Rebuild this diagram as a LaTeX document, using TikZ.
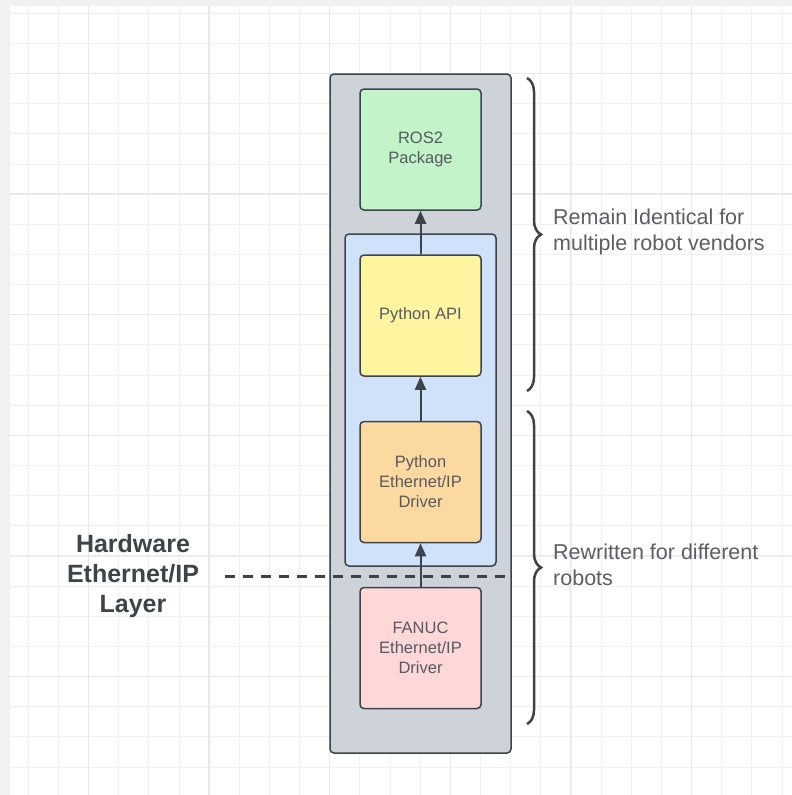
\documentclass[tikz,border=0pt]{standalone}
\usepackage{fontspec}
\setmainfont{Liberation Sans}
\usepackage{xcolor}
\usetikzlibrary{arrows.meta}
\usetikzlibrary{decorations.pathreplacing}
\usetikzlibrary{calc}

\definecolor{edgegray}{HTML}{3D434B}
\definecolor{boxtext}{HTML}{555A61}
\definecolor{sidetext}{HTML}{5A5E65}
\definecolor{hwtext}{HTML}{3F444B}
\definecolor{stackgray}{HTML}{CED3DA}
\definecolor{pyblue}{HTML}{CFE2FA}
\definecolor{rosgreen}{HTML}{C3F3C9}
\definecolor{apiyellow}{HTML}{FFF5A1}
\definecolor{drvorange}{HTML}{FDD9A2}
\definecolor{fanucpink}{HTML}{FED8D8}
\definecolor{minorline}{HTML}{F0F0F0}
\definecolor{majorline}{HTML}{E8E8E8}
\definecolor{pageedge}{HTML}{F1F1F1}

\tikzset{
  layerbox/.style={draw=edgegray, line width=1.5pt, rounded corners=4pt, inner sep=0pt},
  block/.style={layerbox, minimum width=121pt, minimum height=121pt, text=boxtext,
    font=\fontsize{16.5}{20}\selectfont, align=center},
  flow/.style={draw=edgegray, line width=2pt, -{Triangle[length=13pt,width=11pt]}},
  bracket/.style={draw=edgegray, line width=2.5pt, decorate, decoration={brace, amplitude=14pt}},
  note/.style={text=sidetext, font=\fontsize{21.5}{26}\selectfont, align=left, anchor=west, inner sep=0pt},
  cutline/.style={draw=edgegray, line width=3pt, dash pattern=on 10pt off 8pt},
}

\begin{document}
\begin{tikzpicture}[x=1pt,y=-1pt]
	\useasboundingbox[fill=pageedge] (0,0) rectangle (792,795);
	\fill[white] (10,6) rectangle (792,795);
	% grid
	\foreach \k in {0,...,25} {
		\draw[minorline, line width=1pt] ({28.3+30.15*\k},6) -- ({28.3+30.15*\k},795);
		\draw[minorline, line width=1pt] (10,{13.3+30.15*\k}) -- (792,{13.3+30.15*\k});
	}
	\foreach \k in {0,...,5} {
		\draw[majorline, line width=1.2pt] ({88.3+120.6*\k},6) -- ({88.3+120.6*\k},795);
		\draw[majorline, line width=1.2pt] (10,{73.3+120.6*\k}) -- (792,{73.3+120.6*\k});
	}

	% containers
	\node[layerbox, fill=stackgray, minimum width=181pt, minimum height=679pt] (stack) at (420.5,413.5) {};
	\node[layerbox, fill=pyblue, minimum width=151pt, minimum height=332pt] (pyside) at (420.5,400) {};

	% blocks
	\node[block, fill=rosgreen] (ros) at (420.5,149.5) {ROS2\\Package};
	\node[block, fill=apiyellow] (api) at (420.5,315.5) {Python API};
	\node[block, fill=drvorange] (pydrv) at (420.5,482) {Python\\Ethernet/IP\\Driver};
	\node[block, fill=fanucpink] (fanuc) at (420.5,648) {FANUC\\Ethernet/IP\\Driver};

	\draw[flow] (fanuc) -- (pydrv);
	\draw[flow] (pydrv) -- (api);
	\draw[flow] (api) -- (ros);

	% hardware layer
	\node[text=hwtext, font=\fontsize{25}{30}\bfseries\selectfont, align=center] (hw) at (133,576) {Hardware\\Ethernet/IP\\Layer};
	\coordinate (cut) at (225,576);
	\draw[cutline] (cut) -- (cut -| stack.east);

	% braces
	\coordinate (topA) at (527,78);
	\coordinate (topB) at (527,391);
	\coordinate (botA) at (527,411);
	\coordinate (botB) at (527,724);
	\draw[bracket] (topA) -- (topB);
	\draw[bracket] (botA) -- (botB);
	\node[note] (same) at (553,232) {Remain Identical for\\multiple robot vendors};
	\node[note] (rewrite) at (553,564.5) {Rewritten for different\\robots};
\end{tikzpicture}
\end{document}
